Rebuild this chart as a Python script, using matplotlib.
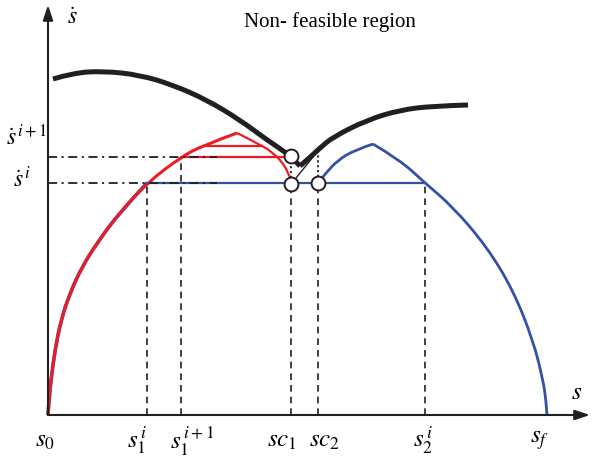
import matplotlib.pyplot as plt
from matplotlib.path import Path
from matplotlib.patches import PathPatch

# ── Datos (s horizontal, sdot vertical) ──────────────────────────
RISE_S = [0, 1, 3, 7, 13, 22, 34, 49, 72, 99, 133, 155, 189]
RISE_V = [0, 15, 35, 65, 95, 122, 148, 172, 203, 232, 258, 269.5, 282]

RED_DOWN_S = [189, 214, 225, 234, 240, 244]
RED_DOWN_V = [282, 269.5, 262, 253, 243, 232]

BLUE_UP_S = [270, 277, 290, 307, 325]
BLUE_UP_V = [232, 241, 255, 265, 271]
BLUE_DOWN_S = [325, 352, 377, 405, 439, 465, 485, 495, 498, 499]
BLUE_DOWN_V = [271, 255, 232, 208, 168, 125, 75, 35, 15, 0]

LIMIT_L_S = [5, 25, 55, 92, 125, 159, 192, 219, 243, 252]
LIMIT_L_V = [336, 342, 344, 340, 330, 315, 295, 275, 259, 249]
LIMIT_R_S = [252, 259, 272, 285, 319, 352, 385, 420]
LIMIT_R_V = [249, 255, 267, 278, 295, 305, 309, 310]

V_I, V_I1 = 232, 258            # sdot^i, sdot^{i+1}
S1_I, S1_I1 = 99, 133           # s_1^i, s_1^{i+1}
SC1, SC2 = 243, 270
S2_I = 377
RED_TOP_V, RED_TOP_S = 269.5, (155, 214)

CIRCLES_S = [SC1, SC1, SC2]
CIRCLES_V = [259, 231, 232]

BOTTOM_LABELS = [r"$s_0$", r"$s_1^{\,i}$", r"$s_1^{\,i+1}$", r"$sc_1$",
                 r"$sc_2$", r"$s_2^{\,i}$", r"$s_f$"]
BOTTOM_POS = [-3, 89, 144, 234, 277, 375, 492]
# ─────────────────────────────────────────────────────────────────


def smooth(ax, xs, ys, **kw):
    """Trazo suave: cada punto es control de una cuadrática."""
    pts = list(zip(xs, ys))
    verts, codes = [pts[0]], [Path.MOVETO]
    for i in range(1, len(pts) - 1):
        if i == len(pts) - 2:
            end = pts[-1]
        else:
            end = ((pts[i][0] + pts[i + 1][0]) / 2, (pts[i][1] + pts[i + 1][1]) / 2)
        verts += [pts[i], end]
        codes += [Path.CURVE3, Path.CURVE3]
    ax.add_patch(PathPatch(Path(verts, codes), fill=False, **kw))


plt.rcParams["mathtext.fontset"] = "stix"
plt.rcParams["font.family"] = ["Liberation Serif", "DejaVu Serif"]

fig = plt.figure(figsize=(5.93, 4.66), dpi=100)
ax = fig.add_axes([0, 0, 1, 1])
ax.set_xlim(-48, 545)
ax.set_ylim(-51, 415)
ax.axis("off")

# ejes con flechas
ax.annotate("", xy=(542, 0), xytext=(0, 0),
            arrowprops=dict(arrowstyle="-|>,head_length=0.9,head_width=0.3",
                            color="#231f20", lw=1.5, shrinkA=0, shrinkB=0))
ax.annotate("", xy=(0, 410), xytext=(0, 0),
            arrowprops=dict(arrowstyle="-|>,head_length=0.9,head_width=0.3",
                            color="#231f20", lw=1.5, shrinkA=0, shrinkB=0))

dash = dict(color="#231f20", lw=1.2, dashes=(4, 3))
ax.plot([S1_I, S1_I], [0, V_I], **dash)
ax.plot([S1_I1, S1_I1], [0, V_I1], **dash)
ax.plot([SC1, SC1], [0, 224], **dash)
ax.plot([SC2, SC2], [0, 224], **dash)
ax.plot([S2_I, S2_I], [0, V_I], **dash)

# curvas azules
smooth(ax, RISE_S[:10], RISE_V[:10], edgecolor="#3452a4", lw=2.6, capstyle="butt")
ax.plot([S1_I, S2_I], [V_I, V_I], color="#3452a4", lw=1.6)
smooth(ax, BLUE_UP_S, BLUE_UP_V, edgecolor="#3452a4", lw=2.0)
smooth(ax, BLUE_DOWN_S, BLUE_DOWN_V, edgecolor="#3452a4", lw=2.0)

# curvas rojas
smooth(ax, RISE_S, RISE_V, edgecolor="#ed1c24", lw=2.2)
smooth(ax, RED_DOWN_S, RED_DOWN_V, edgecolor="#ed1c24", lw=1.6)
ax.plot([S1_I1, SC1 - 4], [V_I1, V_I1], color="#ed1c24", lw=1.6)
ax.plot(RED_TOP_S, [RED_TOP_V, RED_TOP_V], color="#ed1c24", lw=1.6)

# líneas punto-raya
dashdot = dict(color="#231f20", lw=1.3, dashes=(5, 2.5, 1.2, 2.5))
ax.plot([0, 169], [V_I, V_I], **dashdot)
ax.plot([0, 169], [V_I1, V_I1], **dashdot)

# frontera de no factibilidad
smooth(ax, LIMIT_L_S, LIMIT_L_V, edgecolor="#231f20", lw=3.6, capstyle="butt")
smooth(ax, LIMIT_R_S, LIMIT_R_V, edgecolor="#231f20", lw=3.6, capstyle="butt")
ax.plot([244, 269], [232, 263], color="#231f20", lw=1.0)

dot = dict(color="#231f20", lw=1.3, dashes=(1.2, 1.5))
ax.plot([SC1, SC1], [237, 253], **dot)
ax.plot([SC2, SC2], [238, 267], **dot)

ax.plot(CIRCLES_S, CIRCLES_V, "o", ms=10, mfc="white", mec="#231f20", mew=1.4)

# textos
ax.text(282, 393, "Non- feasible region", fontsize=15, ha="center", va="center")
ax.text(24, 396, r"$\dot{s}$", fontsize=17, ha="center", va="center")
ax.text(-22, 278, r"$\dot{s}^{\,i+1}$", fontsize=17, ha="center", va="center")
ax.text(-26, 236, r"$\dot{s}^{\,i}$", fontsize=17, ha="center", va="center")
ax.text(529, 22, r"$s$", fontsize=18, ha="center", va="center")
for lbl, x in zip(BOTTOM_LABELS, BOTTOM_POS):
    ax.text(x, -26, lbl, fontsize=18, ha="center", va="center")

fig.savefig("out.png", dpi=100)
